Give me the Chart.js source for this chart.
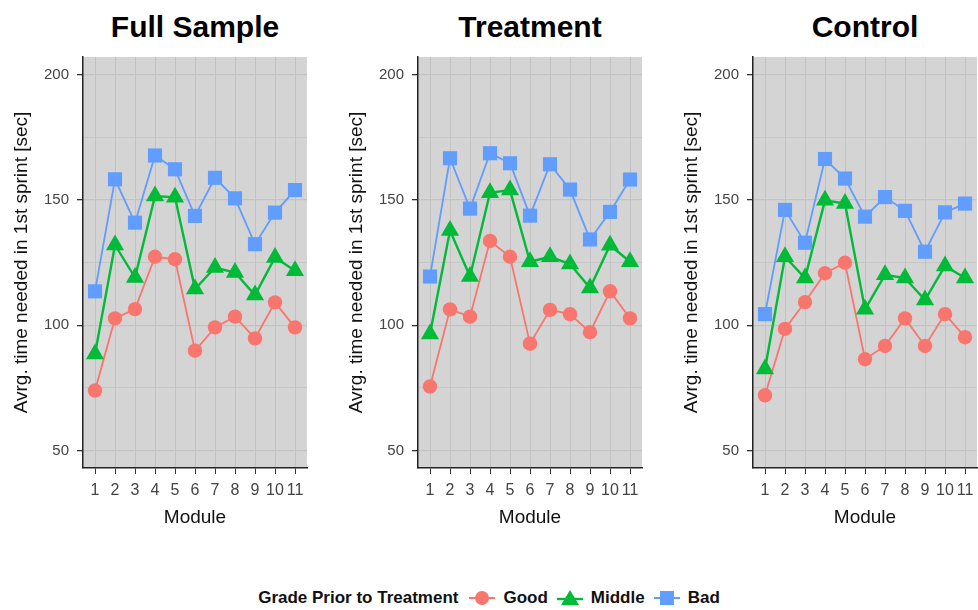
<!DOCTYPE html>
<html>
<head>
<meta charset="utf-8">
<script src="https://cdn.jsdelivr.net/npm/chart.js@4"></script>
<style>
  body { margin: 0; width: 978px; height: 610px; overflow: hidden; background: #fff;
         font-family: "Liberation Sans", Arial, sans-serif; position: relative; }
  .panel { position: absolute; top: 0; width: 335px; height: 540px; }
  .panel canvas { position: absolute; left: 0; top: 40px; }
  .title { position: absolute; left: 83px; width: 224px; top: 12px; text-align: center;
           font-weight: bold; font-size: 30px; line-height: 30px; color: #000; white-space: nowrap; }
  #legend { position: absolute; left: 0; width: 978px; top: 585px; height: 26px;
            display: flex; justify-content: center; align-items: center;
            font-weight: bold; font-size: 17px; color: #111; }
  #legend svg { margin-right: 8px; }
  #legend .lt { margin-right: 11px; }
  #legend .it { margin-right: 9px; }
</style>
</head>
<body>

<div class="panel" style="left:0px"><div class="title">Full Sample</div><canvas id="full" width="335" height="500"></canvas></div>
<div class="panel" style="left:335px"><div class="title">Treatment</div><canvas id="treat" width="335" height="500"></canvas></div>
<div class="panel" style="left:670px"><div class="title">Control</div><canvas id="ctrl" width="335" height="500"></canvas></div>

<div id="legend">
  <span class="lt">Grade Prior to Treatment</span>
  <svg width="26" height="20"><line x1="0" y1="10" x2="26" y2="10" stroke="#F8766D" stroke-width="2"/><circle cx="13" cy="10" r="7" fill="#F8766D"/></svg>
  <span class="it">Good</span>
  <svg width="26" height="20"><line x1="0" y1="11" x2="26" y2="11" stroke="#00BA38" stroke-width="2.4"/><polygon points="13,2 22,17 4,17" fill="#00BA38"/></svg>
  <span class="it">Middle</span>
  <svg width="26" height="20"><line x1="0" y1="10" x2="26" y2="10" stroke="#619CFF" stroke-width="2"/><rect x="6" y="3" width="14" height="14" fill="#619CFF"/></svg>
  <span>Bad</span>
</div>

<script>
var modules = ['1', '2', '3', '4', '5', '6', '7', '8', '9', '10', '11'];
var yTicks = [50, 75, 100, 125, 150, 175, 200];

var fullGood   = [73.9, 102.7, 106.4, 127.3, 126.3, 89.8, 99.1, 103.4, 94.7, 109.1, 99.1];
var fullMiddle = [88.5, 132.0, 119.0, 151.5, 151.0, 114.4, 123.0, 121.0, 112.0, 127.0, 121.7];
var fullBad    = [113.5, 158.2, 140.9, 167.7, 162.2, 143.6, 158.8, 150.6, 132.3, 144.9, 153.9];

var treatGood   = [75.5, 106.3, 103.4, 133.6, 127.3, 92.6, 106.1, 104.4, 97.2, 113.5, 102.7];
var treatMiddle = [96.5, 137.8, 119.4, 152.8, 153.9, 125.3, 127.3, 124.4, 114.8, 131.9, 125.3];
var treatBad    = [119.4, 166.6, 146.5, 168.6, 164.6, 143.7, 164.2, 154.1, 134.2, 145.2, 158.1];

var ctrlGood   = [72.0, 98.5, 109.2, 120.7, 124.9, 86.4, 91.7, 102.7, 91.7, 104.4, 95.2];
var ctrlMiddle = [82.5, 127.3, 118.8, 149.8, 148.5, 106.3, 120.1, 118.8, 110.0, 123.6, 118.8];
var ctrlBad    = [104.4, 146.0, 132.9, 166.3, 158.5, 143.3, 151.1, 145.6, 129.3, 145.0, 148.5];

// grey panel behind the plot area
var panelBg = {
  id: 'panelBg',
  beforeDraw: function(chart) {
    var a = chart.chartArea, ctx = chart.ctx;
    ctx.save();
    ctx.fillStyle = '#d4d4d4';
    ctx.fillRect(a.left, a.top, a.right - a.left, a.bottom - a.top);
    ctx.restore();
  }
};

function series(label, values, color, style, radius, width, order) {
  return {
    label: label,
    data: values.map(function(v, i) { return {x: i + 1, y: v}; }),
    borderColor: color,
    backgroundColor: color,
    borderWidth: width,
    pointStyle: style,
    pointRadius: radius,
    pointBorderWidth: 0,
    pointBackgroundColor: color,
    tension: 0,
    order: order
  };
}

function makePanel(id, good, middle, bad) {
  return new Chart(document.getElementById(id), {
    type: 'line',
    data: {
      datasets: [
        series('Bad', bad, '#619CFF', 'rect', 10, 1.8, 1),
        series('Middle', middle, '#00BA38', 'triangle', 10.5, 2.4, 2),
        series('Good', good, '#F8766D', 'circle', 7.2, 1.8, 3)
      ]
    },
    options: {
      responsive: false,
      animation: false,
      layout: { padding: { top: 15, right: 28, left: 0, bottom: 0 } },
      plugins: { legend: { display: false }, tooltip: { enabled: false } },
      scales: {
        x: {
          type: 'linear', min: 0.4, max: 11.6,
          afterBuildTicks: function(s) { s.ticks = modules.map(function(m, i) { return {value: i + 1}; }); },
          afterFit: function(s) { s.height = 72; },
          ticks: {
            callback: function(v) { return modules[v - 1]; },
            color: '#444', font: { size: 16 }, padding: 7, autoSkip: false, maxRotation: 0
          },
          grid: { color: '#c2c2c2', lineWidth: 1, tickLength: 6, tickColor: '#333' },
          border: { color: '#222', width: 1.5 },
          title: { display: true, text: 'Module', color: '#111', font: { size: 19 }, padding: { top: 5, bottom: 11 } }
        },
        y: {
          min: 43, max: 207,
          afterBuildTicks: function(s) { s.ticks = yTicks.map(function(v) { return {value: v}; }); },
          afterFit: function(s) { s.width = 83; },
          ticks: {
            callback: function(v) { return v % 50 === 0 ? String(v) : ''; },
            color: '#444', font: { size: 15 }, padding: 8
          },
          grid: {
            color: '#c2c2c2',
            lineWidth: function(c) { return c.tick && c.tick.value % 50 === 0 ? 1.3 : 0.7; },
            tickLength: 6,
            tickColor: function(c) { return c.tick && c.tick.value % 50 === 0 ? '#333' : 'rgba(0,0,0,0)'; }
          },
          border: { color: '#222', width: 1.5 },
          title: { display: true, text: 'Avrg. time needed in 1st sprint [sec]', color: '#111',
                   font: { size: 19 }, padding: { top: 10 } }
        }
      }
    },
    plugins: [panelBg]
  });
}

makePanel('full', fullGood, fullMiddle, fullBad);
makePanel('treat', treatGood, treatMiddle, treatBad);
makePanel('ctrl', ctrlGood, ctrlMiddle, ctrlBad);
</script>
</body>
</html>
